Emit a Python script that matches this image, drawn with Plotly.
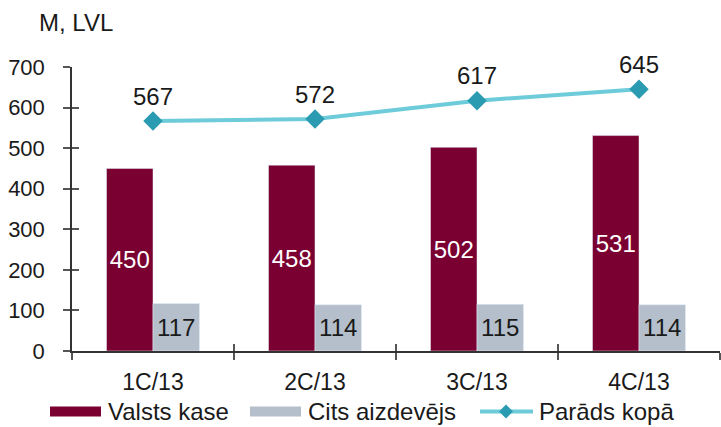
import plotly.graph_objects as go

categories = ["1C/13", "2C/13", "3C/13", "4C/13"]
valsts_kase = [450, 458, 502, 531]
cits_aizdevejs = [117, 114, 115, 114]
parads_kopa = [567, 572, 617, 645]
y_ticks = [0, 100, 200, 300, 400, 500, 600, 700]

series_names = ["Valsts kase", "Cits aizdevējs", "Parāds kopā"]
unit_label = "M, LVL"

MAROON = "#7A0031"
GRAY = "#B5BFCB"
LINE = "#6DCBDA"
MARKER = "#2A9BB0"
FONT = "Liberation Sans, Arial, sans-serif"

W, H = 721, 427
L, R, T, B = 72, 1, 67, 75.5
pw, ph = W - L - R, H - T - B


def px_x(x):
    return (x - L) / pw


def px_y(y):
    return (H - B - y) / ph


fig = go.Figure()
fig.add_trace(go.Bar(
    x=categories, y=valsts_kase, name=series_names[0], marker_color=MAROON,
    text=[str(v) for v in valsts_kase], textposition="inside", insidetextanchor="middle",
    textangle=0, constraintext="none",
    textfont=dict(color="white", size=24, family=FONT), showlegend=False,
))
fig.add_trace(go.Bar(
    x=categories, y=cits_aizdevejs, name=series_names[1], marker_color=GRAY,
    text=[str(v) for v in cits_aizdevejs], textposition="inside", insidetextanchor="middle",
    textangle=0, constraintext="none",
    textfont=dict(color="#1a1a1a", size=24, family=FONT), showlegend=False,
))
fig.add_trace(go.Scatter(
    x=categories, y=parads_kopa, name=series_names[2], mode="lines+markers+text",
    line=dict(color=LINE, width=4),
    marker=dict(symbol="diamond", size=15, color=MARKER),
    text=[str(v) for v in parads_kopa], textposition="top center",
    textfont=dict(color="#1a1a1a", size=24, family=FONT), showlegend=False, cliponaxis=False,
))
# dummy trace for overlay tick axes (crossing tick marks)
fig.add_trace(go.Scatter(x=[None], y=[None], xaxis="x2", yaxis="y2", showlegend=False, hoverinfo="skip"))

fig.update_layout(
    width=W, height=H,
    margin=dict(l=L, r=R, t=T, b=B),
    paper_bgcolor="white", plot_bgcolor="white",
    font=dict(family=FONT, size=22, color="#1a1a1a"),
    barmode="group", bargap=0.426, bargroupgap=0,
    xaxis=dict(
        type="category", range=[-0.5, 3.5], showgrid=False,
        showline=True, linecolor="#333333", linewidth=1.5,
        ticks="outside", tickson="boundaries", ticklen=7, tickcolor="#555555", tickwidth=2,
        ticklabelstandoff=10, tickfont=dict(size=23),
    ),
    yaxis=dict(
        range=[0, 700], tickvals=y_ticks, showgrid=False, zeroline=False,
        showline=True, linecolor="#333333", linewidth=1.5,
        ticks="outside", ticklen=7, tickcolor="#555555", tickwidth=2,
        ticklabelstandoff=14, tickfont=dict(size=22),
    ),
    xaxis2=dict(
        overlaying="x", range=[-0.5, 3.5], tickvals=[-0.5, 0.5, 1.5, 2.5, 3.5],
        ticks="inside", ticklen=7, tickcolor="#555555", tickwidth=2,
        showticklabels=False, showgrid=False, zeroline=False, showline=False, side="bottom",
    ),
    yaxis2=dict(
        overlaying="y", range=[0, 700], tickvals=y_ticks,
        ticks="inside", ticklen=7, tickcolor="#555555", tickwidth=2,
        showticklabels=False, showgrid=False, zeroline=False, showline=False, side="left",
    ),
    showlegend=False,
)

# unit label
fig.add_annotation(text=unit_label, xref="paper", yref="paper", x=px_x(37), y=px_y(22),
                   xanchor="left", yanchor="middle", showarrow=False, font=dict(size=24))

# legend (drawn manually to match wide swatches)
ly = 412
fig.add_shape(type="rect", xref="paper", yref="paper", x0=px_x(50), x1=px_x(101),
              y0=px_y(417), y1=px_y(407), fillcolor=MAROON, line_width=0)
fig.add_annotation(text=series_names[0], xref="paper", yref="paper", x=px_x(106), y=px_y(ly),
                   xanchor="left", yanchor="middle", showarrow=False, font=dict(size=24))
fig.add_shape(type="rect", xref="paper", yref="paper", x0=px_x(250), x1=px_x(301),
              y0=px_y(417), y1=px_y(407), fillcolor=GRAY, line_width=0)
fig.add_annotation(text=series_names[1], xref="paper", yref="paper", x=px_x(306), y=px_y(ly),
                   xanchor="left", yanchor="middle", showarrow=False, font=dict(size=24))
fig.add_shape(type="line", xref="paper", yref="paper", x0=px_x(480), x1=px_x(533),
              y0=px_y(ly), y1=px_y(ly), line=dict(color=LINE, width=4))
fig.add_shape(type="path", xref="paper", yref="paper",
              path=f"M {px_x(506)} {px_y(ly-7)} L {px_x(513)} {px_y(ly)} L {px_x(506)} {px_y(ly+7)} L {px_x(499)} {px_y(ly)} Z",
              fillcolor=MARKER, line_width=0)
fig.add_annotation(text=series_names[2], xref="paper", yref="paper", x=px_x(537), y=px_y(ly),
                   xanchor="left", yanchor="middle", showarrow=False, font=dict(size=24))

fig.write_html("out.html", config={"displayModeBar": False},
               post_script="document.body.style.margin='0';document.body.style.overflow='hidden';")
